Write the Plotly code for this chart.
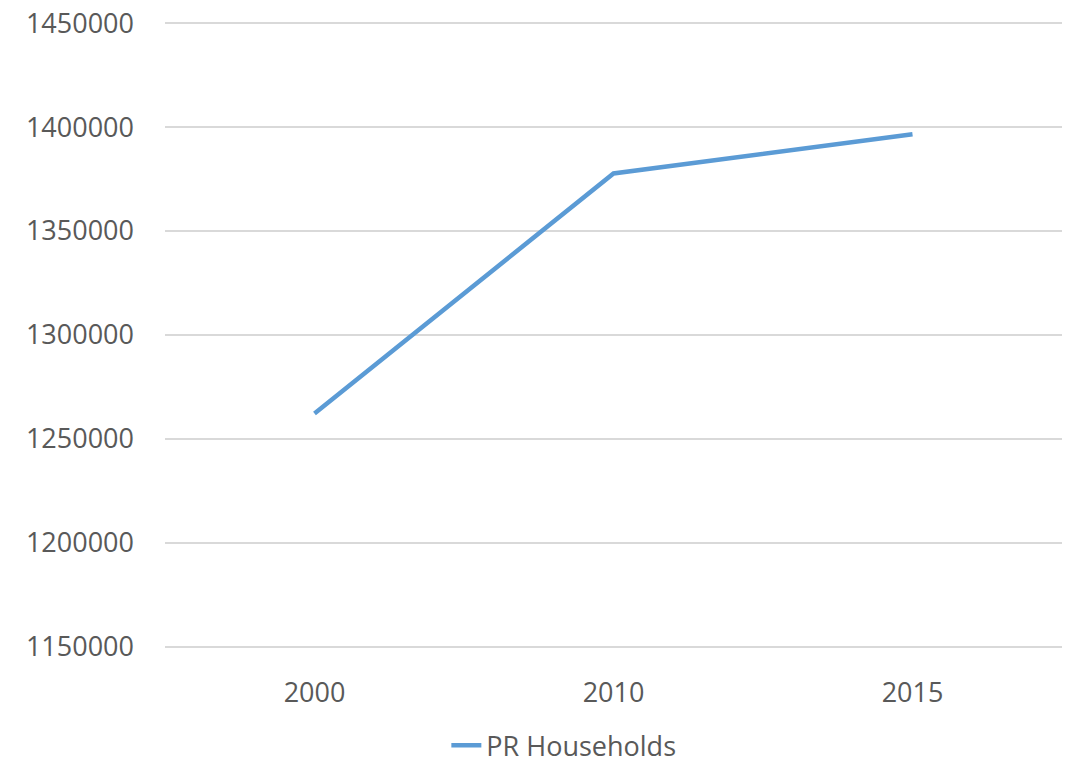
import plotly.graph_objects as go

# Household counts for Puerto Rico by census year
years = ["2000", "2010", "2015"]
households = [1262200, 1377700, 1396600]

y_ticks = [1150000, 1200000, 1250000, 1300000, 1350000, 1400000, 1450000]

text_color = "#595959"
grid_color = "#D9D9D9"
line_color = "#5B9BD5"
font_family = "Open Sans, Liberation Sans, sans-serif"

fig = go.Figure()
fig.add_trace(go.Scatter(
    x=years,
    y=households,
    mode="lines",
    name="PR Households",
    line=dict(color=line_color, width=4.5),
))

fig.update_layout(
    width=1074,
    height=764,
    margin=dict(l=165, r=12, t=20, b=114),
    paper_bgcolor="white",
    plot_bgcolor="white",
    font=dict(family=font_family, size=27, color=text_color),
    showlegend=True,
    legend=dict(
        orientation="h",
        x=0.525,
        xref="container",
        xanchor="center",
        y=0.024,
        yref="container",
        yanchor="middle",
        font=dict(size=27, color=text_color),
    ),
)

# padding so the gridlines at both ends of the range are drawn
pad = 1500
fig.update_xaxes(
    type="category",
    range=[-0.5, 2.5],
    showgrid=False,
    showline=False,
    zeroline=False,
    ticks="",
    ticklabelstandoff=24,
    automargin=False,
)

fig.update_yaxes(
    range=[y_ticks[0] - pad, y_ticks[-1] + pad],
    tickvals=y_ticks,
    tickformat="d",
    showgrid=True,
    gridcolor=grid_color,
    gridwidth=1.5,
    zeroline=False,
    showline=False,
    ticks="",
    ticklabelstandoff=30,
    automargin=False,
)

fig.write_html("out.html")
